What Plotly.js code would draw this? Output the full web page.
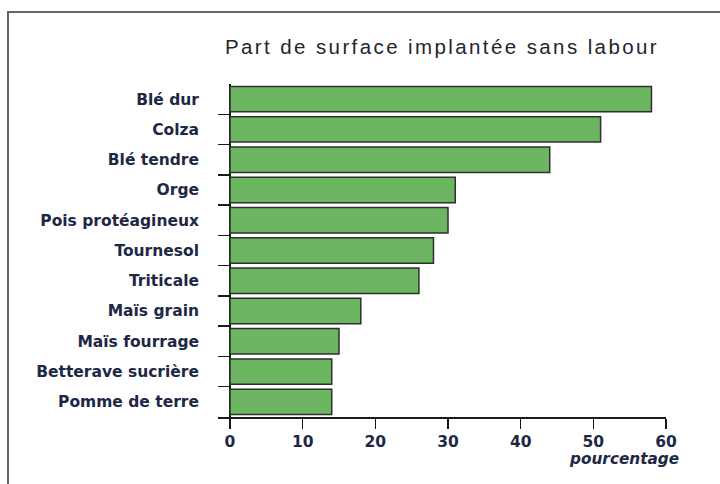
<!DOCTYPE html>
<html>
<head>
<meta charset="utf-8">
<script src="https://cdn.plot.ly/plotly-3.0.1.min.js"></script>
<style>html,body{margin:0;padding:0;background:#fff;}#chart{width:720px;height:484px;}
#chart .gtitle{letter-spacing:2.4px;}</style>
</head>
<body>
<div id="chart"></div>
<script>
const categories = ["Blé dur","Colza","Blé tendre","Orge","Pois protéagineux","Tournesol","Triticale","Maïs grain","Maïs fourrage","Betterave sucrière","Pomme de terre"];
const values = [58, 51, 44, 31, 30, 28, 26, 18, 15, 14, 14];
const xTicks = [0, 10, 20, 30, 40, 50, 60];

const W = 720, H = 484;
const L = 218, R = 666, T = 84, B = 417;
const px = p => (p - L) / (R - L);
const py = p => (B - p) / (B - T);

const labelFont = {family: "'DejaVu Sans', sans-serif", size: 15.5, color: "#1e2845", weight: "bold"};

const trace = {
  type: "bar",
  orientation: "h",
  y: categories,
  x: values,
  width: 0.84,
  marker: {color: "#6cb662", line: {color: "#2f2f2f", width: 1.5}},
  hoverinfo: "skip"
};

const layout = {
  width: W, height: H,
  margin: {l: L, r: W - R, t: T, b: H - B, pad: 0},
  paper_bgcolor: "#fff", plot_bgcolor: "#fff",
  showlegend: false,
  title: {text: "Part de surface implantée sans labour", xref: "container", x: 442 / W, xanchor: "center",
          yref: "container", y: 1 - 47 / H, yanchor: "middle",
          font: {family: "'Liberation Sans', Arial, sans-serif", size: 20.5, color: "#23252f"}},
  xaxis: {
    range: [-(230 - L) / ((R - 230) / 60), 60],
    tickvals: xTicks, ticktext: xTicks.map(String),
    showgrid: false, zeroline: true, zerolinecolor: "#1a1a1a", zerolinewidth: 1.5,
    showline: true, linecolor: "#1a1a1a", linewidth: 1.5,
    ticks: "outside", ticklen: 10, tickwidth: 1.5, tickcolor: "#1a1a1a",
    tickfont: {family: "'DejaVu Sans', sans-serif", size: 15.5, color: "#1e2845", weight: "bold"}, fixedrange: true
  },
  yaxis: {
    type: "category", autorange: "reversed",
    showgrid: false, zeroline: false, showline: false,
    ticks: "inside", ticklen: 12, tickwidth: 1.5, tickcolor: "#1a1a1a",
    tickson: "boundaries", ticklabelstandoff: 18,
    tickfont: labelFont, fixedrange: true
  },
  annotations: [{
    text: "pourcentage", xref: "paper", yref: "paper",
    x: px(681), y: py(459), xanchor: "right", yanchor: "middle", showarrow: false,
    font: {family: "'DejaVu Sans', sans-serif", size: 15.3, color: "#1e2845", style: "italic", weight: "bold"}
  }],
  shapes: [{
    type: "path", xref: "paper", yref: "paper",
    path: `M ${px(8)} ${py(495)} L ${px(8)} ${py(12)} L ${px(730)} ${py(12)}`,
    line: {color: "#666", width: 2}
  }]
};

Plotly.newPlot("chart", [trace], layout, {displayModeBar: false, staticPlot: true});
</script>
</body>
</html>
